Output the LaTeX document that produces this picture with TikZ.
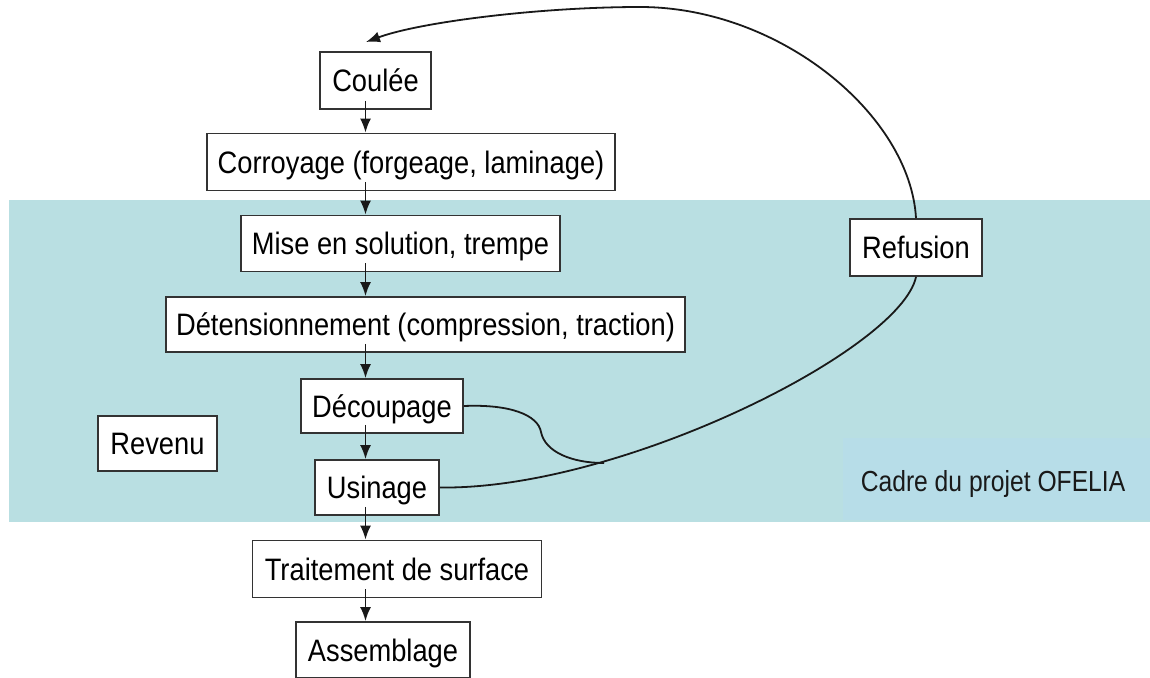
\documentclass[tikz,border=0pt]{standalone}
\usepackage{fontspec}
\setmainfont{Liberation Sans}[FakeStretch=0.88]
\usetikzlibrary{arrows.meta}
\definecolor{band}{HTML}{B9DFE2}
\definecolor{cadrecol}{HTML}{B7DDE8}
\begin{document}
\begin{tikzpicture}[x=1pt,y=-1pt,
  box/.style={draw=black!80, line width=1.9pt, fill=white, inner sep=0pt,
    font=\fontsize{31}{36}\selectfont, text height=22.2pt, text depth=0pt},
  conn/.style={line width=1.8pt, draw=black!90},
  arr/.style={conn, -{Latex[length=14pt,width=11pt]}}]
\useasboundingbox (0,0) rectangle (1150,677);
% background bands
\fill[band] (9,200) rectangle (1150,522);
\fill[cadrecol] (843,438) rectangle (1150,520);
\node[font=\fontsize{29}{34}\selectfont, text height=20.8pt, text depth=0pt, inner sep=0pt, text=black!90]
  (cadretxt) at (993,481) {\addfontfeature{FakeStretch=0.85}Cadre du projet OFELIA};
% nodes
\node[box, minimum width=111pt, minimum height=57pt] (coul) at (375.5,80.5) {Coulée};
\node[box, minimum width=408pt, minimum height=57pt] (corr) at (411,162) {Corroyage (forgeage, laminage)};
\node[box, minimum width=319pt, minimum height=56pt] (mise) at (400.5,243.5) {Mise en solution, trempe};
\node[box, minimum width=519pt, minimum height=55pt] (deten) at (425.5,324.5) {Détensionnement (compression, traction)};
\node[box, minimum width=162pt, minimum height=54pt] (decoup) at (382,406) {Découpage};
\node[box, minimum width=119pt, minimum height=55pt] (revenu) at (157.5,443.5) {Revenu};
\node[box, minimum width=124pt, minimum height=55pt] (usin) at (377,487.5) {Usinage};
\node[box, minimum width=289pt, minimum height=57pt] (trait) at (397,569) {Traitement de surface};
\node[box, minimum width=174pt, minimum height=56pt] (assem) at (383,650) {Assemblage};
\node[box, minimum width=132pt, minimum height=57pt] (refu) at (916,247.5) {Refusion};
% vertical arrows
\coordinate (ax) at (365.5,0);
\draw[arr] ([yshift=9pt]coul.south -| ax) -- (corr.north -| ax);
\draw[arr] ([yshift=9pt]corr.south -| ax) -- (mise.north -| ax);
\draw[arr] ([yshift=9pt]mise.south -| ax) -- (deten.north -| ax);
\draw[arr] ([yshift=9pt]deten.south -| ax) -- (decoup.north -| ax);
\draw[arr] ([yshift=9pt]decoup.south -| ax) -- (usin.north -| ax);
\draw[arr] ([yshift=9pt]usin.south -| ax) -- (trait.north -| ax);
\draw[arr] ([yshift=9pt]trait.south -| ax) -- (assem.north -| ax);
% recycling loop
\coordinate (tip) at (366,42);
\draw[conn] (usin.east) .. controls (620,490) and (900,350) .. (refu.south);
\draw[conn] (decoup.east) .. controls (510,404) and (538,415) .. (541,432)
  .. controls (545,452) and (572,463) .. (604,463);
\draw[arr] (refu.north) .. controls (910,115) and (780,7) .. (640,7)
  .. controls (540,7) and (420,22) .. (tip);
\end{tikzpicture}
\end{document}
